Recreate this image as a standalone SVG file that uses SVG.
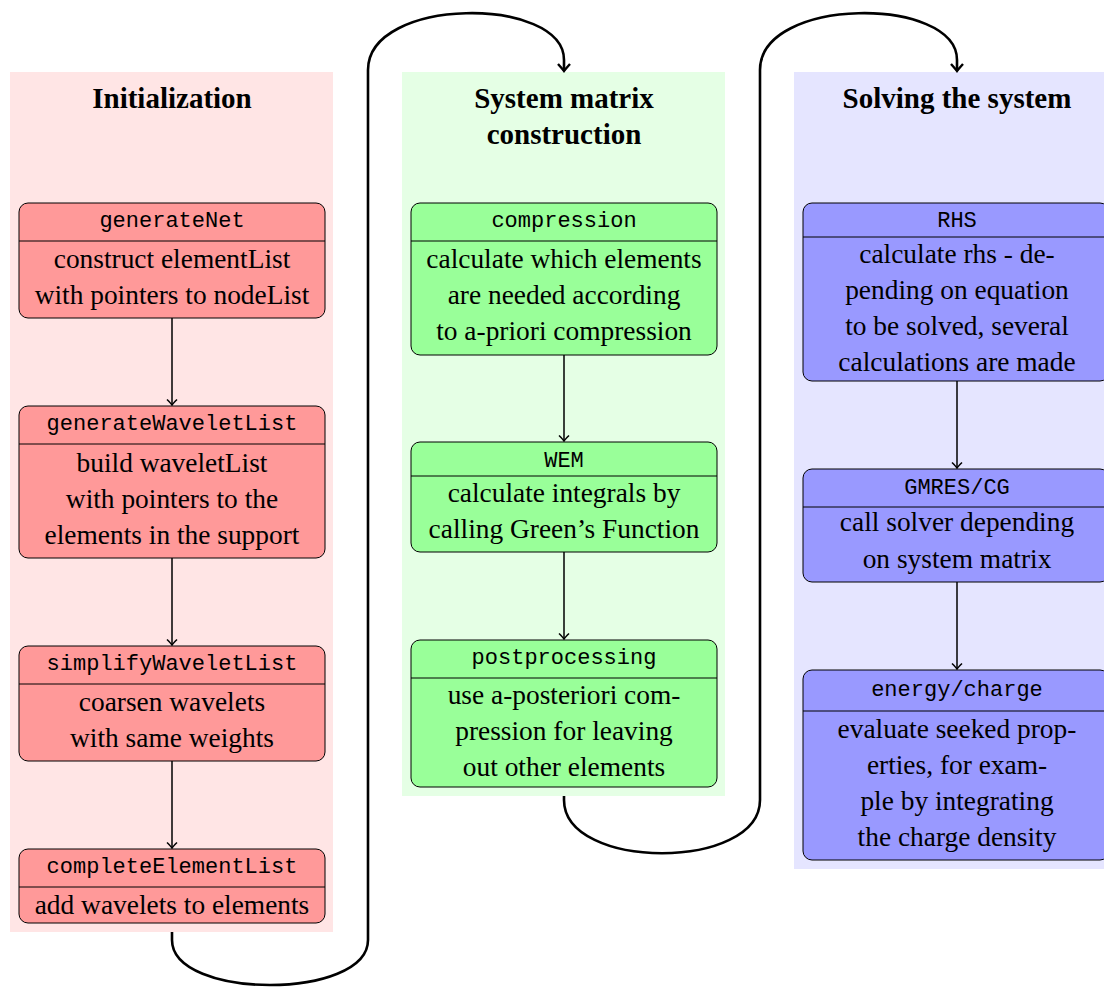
<svg xmlns="http://www.w3.org/2000/svg" width="1104" height="987" viewBox="0 0 1104 987">
<style>
.panel-r{fill:#ffe5e5}.panel-g{fill:#e5ffe5}.panel-b{fill:#e5e5ff}
.box{stroke:#000;stroke-width:1}
.r{fill:#ff9999}.g{fill:#99ff99}.b{fill:#9999ff}
.div{stroke:#000;stroke-width:1}
.hd{font-family:"Liberation Serif",serif;font-weight:bold;font-size:29px;text-anchor:middle;fill:#000}
.tt{font-family:"Liberation Mono",monospace;font-size:22px;text-anchor:middle;fill:#000}
.tx{font-family:"Liberation Serif",serif;font-size:27.4px;text-anchor:middle;fill:#000}
.arr{fill:none;stroke:#000;stroke-width:1.5;marker-end:url(#ah)}
.big{fill:none;stroke:#000;stroke-width:2.6;marker-end:url(#bh)}
</style>
<defs>
<marker id="ah" viewBox="-7 -6 9 12" refX="0" refY="0" markerWidth="9" markerHeight="12" markerUnits="userSpaceOnUse" orient="auto" overflow="visible">
<path d="M-5.5,-5 Q-1.5,-1 0,0 Q-1.5,1 -5.5,5" fill="none" stroke="#000" stroke-width="1.5"/>
</marker>
<marker id="bh" viewBox="-9 -8 11 16" refX="0" refY="0" markerWidth="11" markerHeight="16" markerUnits="userSpaceOnUse" orient="auto" overflow="visible">
<path d="M-7,-6 Q-2,-1.5 0,0 Q-2,1.5 -7,6" fill="none" stroke="#000" stroke-width="2.4"/>
</marker>
</defs>
<rect x="0" y="0" width="1104" height="987" fill="#fff"/>
<g id="panels">
<rect class="panel-r" x="10" y="72" width="323" height="860"/>
<rect class="panel-g" x="402" y="72" width="323" height="724"/>
<rect class="panel-b" x="794" y="72" width="330" height="797"/>
<text class="hd" x="172" y="108">Initialization</text>
<text class="hd" x="564" y="108">System matrix</text>
<text class="hd" x="564" y="144">construction</text>
<text class="hd" x="957" y="108">Solving the system</text>
</g>
<g id="connectors">
<path class="arr" d="M172,318 L172,405"/>
<path class="arr" d="M172,558 L172,645"/>
<path class="arr" d="M172,761 L172,848"/>
<path class="arr" d="M564,355 L564,441"/>
<path class="arr" d="M564,552 L564,639"/>
<path class="arr" d="M957,381 L957,468"/>
<path class="arr" d="M957,582 L957,669"/>
<path class="big" d="M172,932 L172,940 C172,1000 368,1000 368,940 L368,70 C368,-4 564,-4 564,60 L564,71"/>
<path class="big" d="M564,796 L564,800 C564,871 760,871 760,800 L760,70 C760,-4 957,-4 957,60 L957,71"/>
</g>
<g id="generateNet">
<rect class="box r" x="19" y="203" width="306" height="115" rx="9"/>
<line class="div" x1="19" y1="241" x2="325" y2="241"/>
<text class="tt" x="172" y="227">generateNet</text>
<text class="tx" x="172" y="268">construct elementList</text>
<text class="tx" x="172" y="304">with pointers to nodeList</text>
</g>
<g id="generateWaveletList">
<rect class="box r" x="19" y="406" width="306" height="152" rx="9"/>
<line class="div" x1="19" y1="444" x2="325" y2="444"/>
<text class="tt" x="172" y="430">generateWaveletList</text>
<text class="tx" x="172" y="472">build waveletList</text>
<text class="tx" x="172" y="508">with pointers to the</text>
<text class="tx" x="172" y="544">elements in the support</text>
</g>
<g id="simplifyWaveletList">
<rect class="box r" x="19" y="646" width="306" height="115" rx="9"/>
<line class="div" x1="19" y1="684" x2="325" y2="684"/>
<text class="tt" x="172" y="670">simplifyWaveletList</text>
<text class="tx" x="172" y="711">coarsen wavelets</text>
<text class="tx" x="172" y="747">with same weights</text>
</g>
<g id="completeElementList">
<rect class="box r" x="19" y="849" width="306" height="74" rx="9"/>
<line class="div" x1="19" y1="887" x2="325" y2="887"/>
<text class="tt" x="172" y="873">completeElementList</text>
<text class="tx" x="172" y="914">add wavelets to elements</text>
</g>
<g id="compression">
<rect class="box g" x="411" y="203" width="306" height="152" rx="9"/>
<line class="div" x1="411" y1="241" x2="717" y2="241"/>
<text class="tt" x="564" y="227">compression</text>
<text class="tx" x="564" y="268">calculate which elements</text>
<text class="tx" x="564" y="304">are needed according</text>
<text class="tx" x="564" y="340">to a-priori compression</text>
</g>
<g id="WEM">
<rect class="box g" x="411" y="442" width="306" height="110" rx="9"/>
<line class="div" x1="411" y1="476" x2="717" y2="476"/>
<text class="tt" x="564" y="467">WEM</text>
<text class="tx" x="564" y="502">calculate integrals by</text>
<text class="tx" x="564" y="538">calling Green’s Function</text>
</g>
<g id="postprocessing">
<rect class="box g" x="411" y="640" width="306" height="147" rx="9"/>
<line class="div" x1="411" y1="678" x2="717" y2="678"/>
<text class="tt" x="564" y="664">postprocessing</text>
<text class="tx" x="564" y="704">use a-posteriori com-</text>
<text class="tx" x="564" y="740">pression for leaving</text>
<text class="tx" x="564" y="776">out other elements</text>
</g>
<g id="RHS">
<rect class="box b" x="803" y="203" width="306" height="178" rx="9"/>
<line class="div" x1="803" y1="237" x2="1109" y2="237"/>
<text class="tt" x="957" y="227">RHS</text>
<text class="tx" x="957" y="263">calculate rhs - de-</text>
<text class="tx" x="957" y="299">pending on equation</text>
<text class="tx" x="957" y="335">to be solved, several</text>
<text class="tx" x="957" y="371">calculations are made</text>
</g>
<g id="GMRES-CG">
<rect class="box b" x="803" y="469" width="306" height="113" rx="9"/>
<line class="div" x1="803" y1="507" x2="1109" y2="507"/>
<text class="tt" x="957" y="494">GMRES/CG</text>
<text class="tx" x="957" y="531">call solver depending</text>
<text class="tx" x="957" y="568">on system matrix</text>
</g>
<g id="energy-charge">
<rect class="box b" x="803" y="670" width="306" height="190" rx="9"/>
<line class="div" x1="803" y1="711" x2="1109" y2="711"/>
<text class="tt" x="957" y="696">energy/charge</text>
<text class="tx" x="957" y="738">evaluate seeked prop-</text>
<text class="tx" x="957" y="774">erties, for exam-</text>
<text class="tx" x="957" y="810">ple by integrating</text>
<text class="tx" x="957" y="846">the charge density</text>
</g>
</svg>
